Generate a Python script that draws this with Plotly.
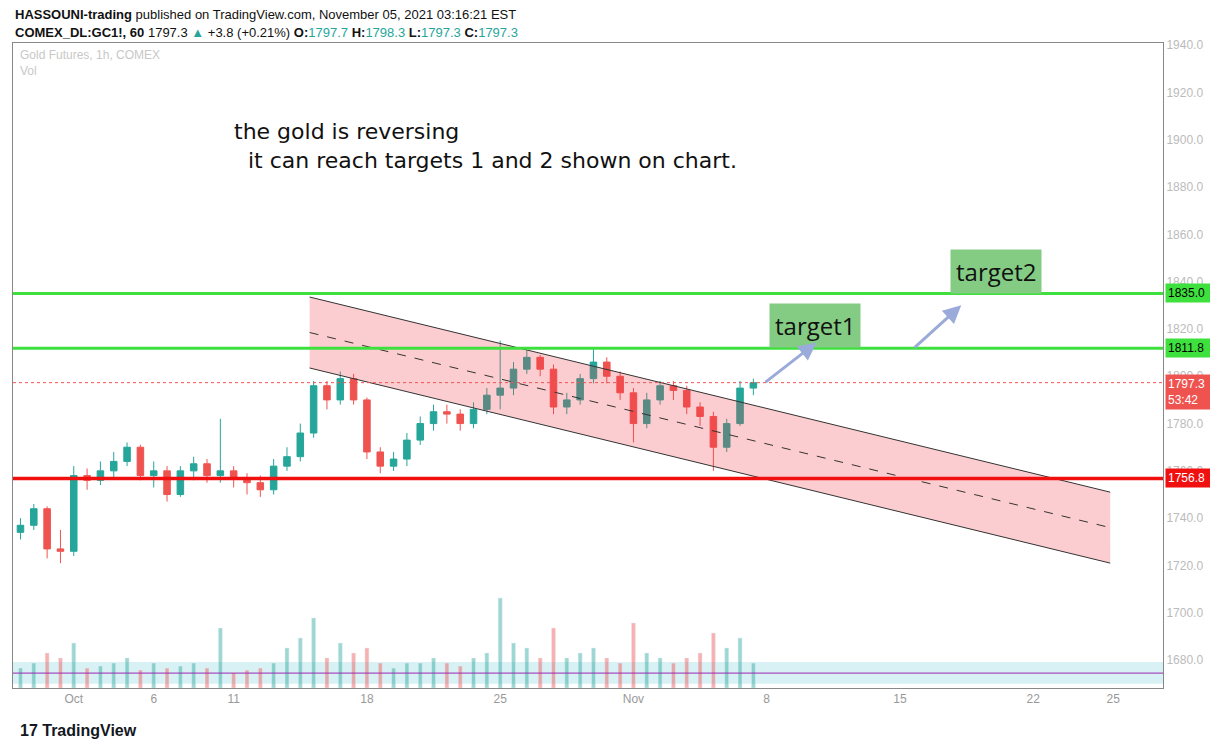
import plotly.graph_objects as go

# trading-day index (0 = Oct 1), half-day bars
bar_day = [-2.0 + 0.5 * i for i in range(56)]
bar_close = [1737, 1744, 1727, 1726, 1758, 1756, 1760, 1764, 1770, 1758,
             1760, 1750, 1760, 1763, 1758, 1760, 1757, 1755, 1752, 1762,
             1766, 1776, 1796, 1790, 1799, 1790, 1768, 1762, 1765, 1773,
             1780, 1785, 1784, 1780, 1786, 1792, 1795, 1803, 1808, 1803,
             1787, 1790, 1799, 1806, 1800, 1793, 1780, 1790, 1796, 1794,
             1787, 1783, 1770, 1780, 1795, 1797.3]
bar_open = [1734, 1737, 1744, 1727, 1726, 1758, 1756, 1760, 1764, 1770,
            1758, 1760, 1750, 1760, 1763, 1758, 1760, 1757, 1755, 1752,
            1762, 1766, 1776, 1796, 1790, 1799, 1790, 1768, 1762, 1765,
            1773, 1780, 1785, 1784, 1780, 1786, 1792, 1795, 1803, 1808,
            1803, 1787, 1790, 1799, 1806, 1800, 1793, 1780, 1790, 1796,
            1794, 1787, 1783, 1770, 1780, 1795]
bar_high = [1740, 1746, 1745, 1735, 1762, 1761, 1764, 1768, 1772, 1771,
            1764, 1762, 1762, 1766, 1765, 1782, 1762, 1759, 1758, 1765,
            1770, 1780, 1798, 1798, 1802, 1801, 1791, 1770, 1768, 1776,
            1783, 1788, 1788, 1786, 1789, 1795, 1815, 1806, 1811, 1809,
            1805, 1793, 1801, 1812, 1808, 1802, 1795, 1793, 1798, 1798,
            1796, 1789, 1785, 1782, 1798, 1799]
bar_low = [1731, 1735, 1723, 1721, 1724, 1752, 1754, 1757, 1762, 1756,
           1753, 1747, 1749, 1756, 1755, 1755, 1753, 1750, 1749, 1750,
           1760, 1764, 1774, 1786, 1788, 1788, 1765, 1759, 1760, 1762,
           1771, 1777, 1780, 1777, 1778, 1784, 1786, 1792, 1801, 1800,
           1784, 1784, 1788, 1797, 1797, 1790, 1772, 1778, 1788, 1790,
           1784, 1779, 1760, 1768, 1779, 1792]
bar_volume = [20, 25, 35, 30, 45, 20, 22, 25, 30, 18,
              25, 20, 22, 25, 20, 60, 15, 18, 20, 25,
              40, 50, 70, 30, 45, 35, 40, 25, 20, 25,
              25, 30, 25, 22, 30, 35, 90, 45, 40, 30,
              60, 30, 35, 40, 30, 25, 65, 35, 30, 25,
              30, 35, 55, 40, 50, 25]

tick_days = [0, 3, 6, 11, 16, 21, 26, 31, 36, 39]
tick_text = ["Oct", "6", "11", "18", "25", "Nov", "8", "15", "22", "25"]
price_ticks = list(range(1680, 1941, 20))

channel_day = [8.85, 38.89]
channel_upper = [1833.5, 1751.0]
channel_mid = [1818.5, 1736.0]
channel_lower = [1803.5, 1721.0]

level_green = [1835.0, 1811.8]
level_red = 1756.8
last_price = 1797.3

fig = go.Figure()

fig.add_trace(go.Scatter(
    x=channel_day + channel_day[::-1], y=channel_upper + channel_lower[::-1],
    mode="lines", fill="toself", fillcolor="rgba(242,54,69,0.25)",
    line=dict(width=0), hoverinfo="skip"))
for ys, dash in [(channel_upper, "solid"), (channel_lower, "solid"), (channel_mid, "dash")]:
    fig.add_trace(go.Scatter(x=channel_day, y=ys, mode="lines",
                             line=dict(color="#333", width=1, dash=dash)))

fig.add_trace(go.Bar(
    x=bar_day, y=bar_volume, yaxis="y2", width=0.15,
    marker_color=["rgba(38,166,154,0.45)" if c >= o else "rgba(239,83,80,0.45)"
                  for o, c in zip(bar_open, bar_close)]))

fig.add_trace(go.Candlestick(
    x=bar_day, open=bar_open, high=bar_high, low=bar_low, close=bar_close,
    increasing=dict(line=dict(color="#26a69a", width=1), fillcolor="#26a69a"),
    decreasing=dict(line=dict(color="#ef5350", width=1), fillcolor="#ef5350"),
    whiskerwidth=0))

x0, x1 = -2.28, 40.87
for lv in level_green:
    fig.add_shape(type="line", x0=x0, x1=x1, y0=lv, y1=lv,
                  line=dict(color="#3ee03e", width=3))
fig.add_shape(type="line", x0=x0, x1=x1, y0=level_red, y1=level_red,
              line=dict(color="#f01010", width=3.5))
fig.add_shape(type="line", x0=x0, x1=x1, y0=last_price, y1=last_price,
              line=dict(color="#ef5350", width=1, dash="dot"))
fig.add_shape(type="rect", x0=x0, x1=x1, y0=1670, y1=1679.2,
              fillcolor="#d7f1f5", line_width=0, layer="below")
fig.add_shape(type="line", x0=x0, x1=x1, y0=1674.5, y1=1674.5,
              line=dict(color="#9c27b0", width=1))

# price tags on the right axis
for lv, bg, fc, txt in [(1835.0, "#3ee03e", "black", "1835.0"),
                        (1811.8, "#3ee03e", "black", "1811.8"),
                        (1756.8, "#f01010", "white", "1756.8"),
                        (1797.3, "#ef5350", "white", "1797.3<br>53:42")]:
    two = "<br>" in txt
    fig.add_annotation(x=1.002, xref="paper", y=lv, yref="y", text=txt,
                       xanchor="left", yanchor="top" if two else "middle",
                       yshift=9 if two else 0, width=48, borderpad=2,
                       showarrow=False, bgcolor=bg, align="left",
                       font=dict(color=fc, size=12, family="Liberation Sans"))

# targets
for d, p, txt in [(27.8, 1821.6, "target1"), (34.6, 1844.5, "target2")]:
    fig.add_annotation(x=d, y=p, text=txt, showarrow=False, bgcolor="#84cc84",
                       borderpad=5, font=dict(size=24, color="#111", family="Open Sans"))
arrows = [((25.9, 1797.0), (27.87, 1814.3)), ((31.49, 1811.5), (33.3, 1830.0))]
for (ax_, ay_), (hx, hy) in arrows:
    fig.add_annotation(x=hx, y=hy, ax=ax_, ay=ay_, axref="x", ayref="y",
                       showarrow=True, arrowhead=2, arrowsize=1.2, arrowwidth=3,
                       arrowcolor="#9aaad9", text="")

fig.add_annotation(x=0.19, y=0.885, xref="paper", yref="paper", xanchor="left",
                   text="the gold is reversing<br>  it can reach targets 1 and 2 shown on chart.",
                   showarrow=False, align="left",
                   font=dict(size=22, color="#111", family="DejaVu Sans"))

fig.add_annotation(x=0.004, y=0.995, xref="paper", yref="paper", xanchor="left",
                   yanchor="top", showarrow=False, align="left",
                   text="Gold Futures, 1h, COMEX<br>Vol",
                   font=dict(size=12, color="#c8c8c8", family="Liberation Sans"))

fig.add_annotation(x=0.0, y=1, xref="paper", yref="paper", xanchor="left",
                   yanchor="middle", yshift=29, showarrow=False, align="left",
                   font=dict(size=13, color="#111"),
                   text="<b>HASSOUNI-trading</b> published on TradingView.com, November 05, 2021 03:16:21 EST")
fig.add_annotation(x=0.0, y=1, xref="paper", yref="paper", xanchor="left",
                   yanchor="middle", yshift=11, showarrow=False, align="left",
                   font=dict(size=13, color="#111"),
                   text="<b>COMEX_DL:GC1!, 60</b> 1797.3 <span style='color:#26a69a'>▲</span> +3.8 (+0.21%) "
                        "<b>O:</b><span style='color:#26a69a'>1797.7</span> <b>H:</b><span style='color:#26a69a'>1798.3</span> "
                        "<b>L:</b><span style='color:#26a69a'>1797.3</span> <b>C:</b><span style='color:#26a69a'>1797.3</span>")
fig.add_annotation(x=0.004, y=0, xref="paper", yref="paper", xanchor="left",
                   yanchor="middle", yshift=-42, showarrow=False,
                   font=dict(size=16, color="#131722"), text="<b>17 TradingView</b>")

fig.update_layout(
    width=1218, height=749, showlegend=False, plot_bgcolor="white",
    paper_bgcolor="white", margin=dict(l=5, r=63, t=35, b=69, autoexpand=False),
    font=dict(family="Liberation Sans"),
    xaxis=dict(range=[x0, x1], tickvals=tick_days, ticktext=tick_text,
               showgrid=False, zeroline=False, rangeslider=dict(visible=False),
               tickfont=dict(color="#999", size=12), showline=True,
               linecolor="#888", mirror=True, ticks=""),
    yaxis=dict(range=[1668.2, 1940.9], side="right", tickvals=price_ticks,
               ticktext=[f"{v:.1f}" for v in price_ticks], showgrid=False,
               zeroline=False, tickfont=dict(color="#bbb", size=12),
               showline=True, linecolor="#888", mirror=True),
    yaxis2=dict(range=[0, 645], overlaying="y", visible=False),
)

fig.write_html("out.html")
